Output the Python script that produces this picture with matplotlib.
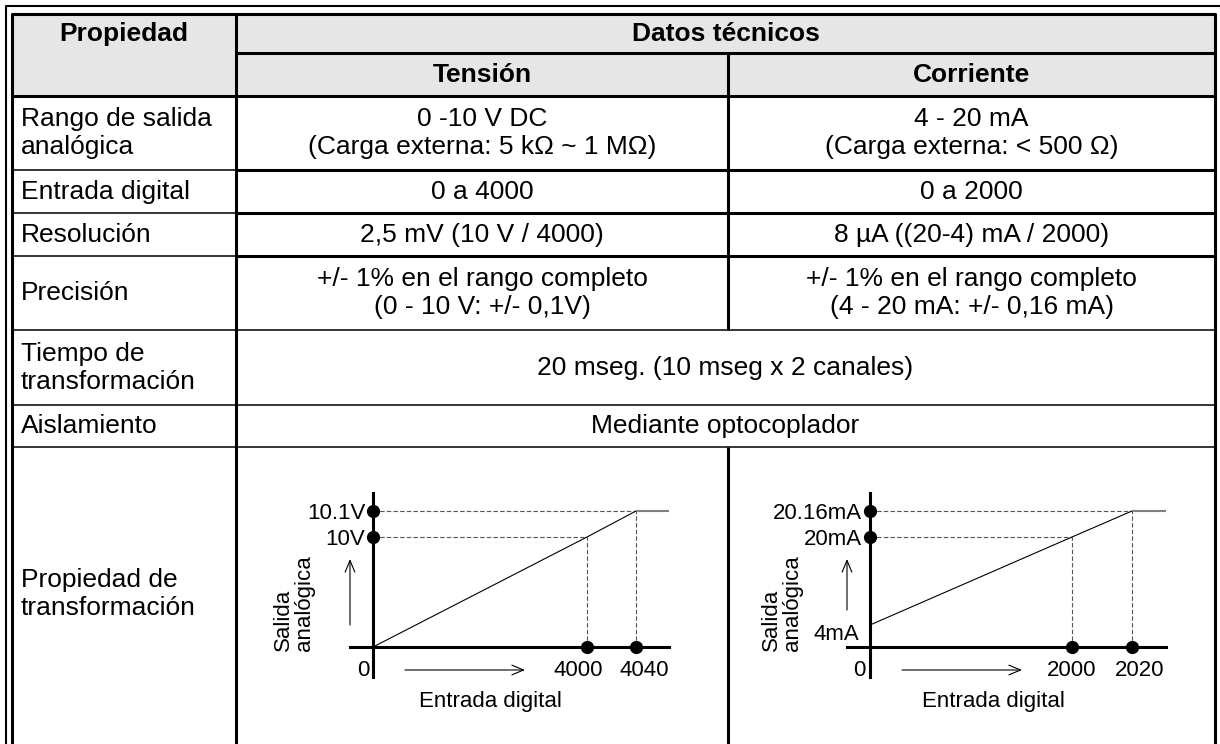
import numpy as np
import matplotlib
matplotlib.use("Agg")
import matplotlib.pyplot as plt
from matplotlib.patches import Rectangle

plt.rcParams['font.family'] = ['Liberation Sans', 'DejaVu Sans']

# Table content
col_headers = ["Propiedad", "Datos técnicos", "Tensión", "Corriente"]
row_names = [["Rango de salida", "analógica"], ["Entrada digital"], ["Resolución"],
             ["Precisión"], ["Tiempo de", "transformación"], ["Aislamiento"],
             ["Propiedad de", "transformación"]]
tension_vals = [["0 -10 V DC", "(Carga externa: 5 kΩ ~ 1 MΩ)"], ["0 a 4000"],
                ["2,5 mV (10 V / 4000)"],
                ["+/- 1% en el rango completo", "(0 - 10 V: +/- 0,1V)"]]
corriente_vals = [["4 - 20 mA", "(Carga externa: < 500 Ω)"], ["0 a 2000"],
                  ["8 µA ((20-4) mA / 2000)"],
                  ["+/- 1% en el rango completo", "(4 - 20 mA: +/- 0,16 mA)"]]
shared_vals = [["20 mseg. (10 mseg x 2 canales)"], ["Mediante optocoplador"]]

# Transformation curves
volt_in = [0, 4000, 4040]
volt_out = [0, 10, 10.1]
volt_ylabels = ["10V", "10.1V"]
curr_in = [0, 2000, 2020]
curr_out = [4, 20, 20.16]
curr_ylabels = ["20mA", "20.16mA"]
axis_title_x = "Entrada digital"
axis_title_y = "Salida\nanalógica"

# Layout (pixels)
W, H = 1220, 744
col_x = [12, 236, 728, 1215]
row_y = [14, 53, 96, 170, 213, 256, 330, 405, 447, 740]
thick, thin = 2.2, 1.1
fs_table = 19
fs_chart = 16
header_gray = '#e6e6e6'

fig = plt.figure(figsize=(W / 100, H / 100), dpi=100)
ax = fig.add_axes([0, 0, 1, 1])
ax.set_xlim(0, W)
ax.set_ylim(H, 0)
ax.axis('off')

# header background
ax.add_patch(Rectangle((col_x[0], row_y[0]), col_x[-1] - col_x[0], row_y[2] - row_y[0],
                       fc=header_gray, ec='none', zorder=0))

# frames
ax.plot([6, 6, W + 20], [H + 20, 6, 6], color='k', lw=1.5)
ax.plot([col_x[0], col_x[0], col_x[-1], col_x[-1]], [H + 20, row_y[0], row_y[0], H + 20],
        color='k', lw=thick)
ax.hlines(row_y[1], col_x[1], col_x[-1], color='k', lw=thick)
ax.hlines(row_y[2], col_x[0], col_x[-1], color='k', lw=thick)
ax.vlines(col_x[1], row_y[0], H + 20, color='k', lw=thick)
ax.vlines(col_x[2], row_y[1], row_y[6], color='k', lw=thick)
ax.vlines(col_x[2], row_y[8], H + 20, color='k', lw=thick)
for y in row_y[3:6]:
    ax.hlines(y, col_x[0], col_x[1], color='k', lw=thin)
    ax.hlines(y, col_x[1], col_x[-1], color='k', lw=thick)
for y in row_y[6:9]:
    ax.hlines(y, col_x[0], col_x[-1], color='k', lw=thin)

cap_off = 0.358 * fs_table * 100 / 72  # cap centre -> baseline


def cell_text(lines, x, y_top, y_bot, ha='center', bold=False):
    yc = (y_top + y_bot) / 2 - 2
    n = len(lines)
    for i, s in enumerate(lines):
        y = yc + (i - (n - 1) / 2) * 28
        ax.text(x, y + cap_off, s, ha=ha, va='baseline', fontsize=fs_table,
                fontweight='bold' if bold else 'normal')


c2 = (col_x[1] + col_x[2]) / 2
c3 = (col_x[2] + col_x[3]) / 2
c23 = (col_x[1] + col_x[3]) / 2
ax.text((col_x[0] + col_x[1]) / 2, 32 + cap_off, col_headers[0], ha='center', va='baseline',
        fontsize=fs_table, fontweight='bold')
ax.text(c23, 32 + cap_off, col_headers[1], ha='center', va='baseline',
        fontsize=fs_table, fontweight='bold')
ax.text(c2, 73 + cap_off, col_headers[2], ha='center', va='baseline',
        fontsize=fs_table, fontweight='bold')
ax.text(c3, 73 + cap_off, col_headers[3], ha='center', va='baseline',
        fontsize=fs_table, fontweight='bold')

for i, name in enumerate(row_names):
    cell_text(name, 21, row_y[i + 2], row_y[i + 3], ha='left')
for i, (tv, cv) in enumerate(zip(tension_vals, corriente_vals)):
    cell_text(tv, c2, row_y[i + 2], row_y[i + 3])
    cell_text(cv, c3, row_y[i + 2], row_y[i + 3])
for i, sv in enumerate(shared_vals):
    cell_text(sv, c23, row_y[i + 6], row_y[i + 7])


def piecewise(a, b):
    a = np.asarray(a, float)
    b = np.asarray(b, float)
    lo = (b[1] - b[0]) / (a[1] - a[0])
    hi = (b[-1] - b[-2]) / (a[-1] - a[-2])

    def f(v):
        v = np.asarray(v, float)
        out = np.interp(v, a, b)
        out = np.where(v < a[0], b[0] + (v - a[0]) * lo, out)
        out = np.where(v > a[-1], b[-1] + (v - a[-1]) * hi, out)
        return out
    return f


def draw_chart(origin, x_vals, y_vals, x_breaks, x_px, y_breaks, y_px, ylabels,
               low_label, arrow_up, salida_x, entrada_x, xlab_shift):
    ox, oy = origin
    left, right, below, above = 23, 296, 30, 154
    cax = fig.add_axes([(ox - left) / W, (H - oy - below) / H,
                        (left + right) / W, (below + above) / H])
    cax.patch.set_visible(False)
    fx, ix = piecewise(x_breaks, x_px), piecewise(x_px, x_breaks)
    fy, iy = piecewise(y_breaks, y_px), piecewise(y_px, y_breaks)
    cax.set_xscale('function', functions=(fx, ix))
    cax.set_yscale('function', functions=(fy, iy))
    cax.set_xlim(float(ix(-left)), float(ix(right)))
    cax.set_ylim(float(iy(-below)), float(iy(above)))
    for side in ['top', 'right']:
        cax.spines[side].set_visible(False)
    for side in ['left', 'bottom']:
        cax.spines[side].set_position(('data', 0))
        cax.spines[side].set_linewidth(thick)
    cax.minorticks_off()
    cax.set_xticks([])
    cax.set_yticks(y_vals[1:], labels=ylabels)
    cax.tick_params(axis='y', length=0, pad=5.5, labelsize=fs_chart)

    # guides
    for xv, yv in zip(x_vals[1:], y_vals[1:]):
        cax.plot([0, xv], [yv, yv], color='#555555', lw=0.8, ls=(0, (4, 2)))
        cax.plot([xv, xv], [0, yv], color='#555555', lw=0.8, ls=(0, (4, 2)))
    cax.plot(x_vals, y_vals, color='k', lw=0.8)
    cax.plot([x_vals[-1], cax.get_xlim()[1]], [y_vals[-1], y_vals[-1]],
             color='#808080', lw=1.5, solid_capstyle='butt')
    cax.plot(np.zeros(len(y_vals) - 1), y_vals[1:], 'o', color='k', ms=8.5,
             clip_on=False, zorder=5)
    cax.plot(x_vals[1:], np.zeros(len(x_vals) - 1), 'o', color='k', ms=8.5,
             clip_on=False, zorder=5)
    for xv, dx in zip(x_vals[1:], xlab_shift):
        cax.annotate(str(xv), xy=(xv, 0), xytext=(dx, -24), textcoords='offset pixels',
                     ha='center', va='center', fontsize=fs_chart)
    cax.annotate('0', xy=(0, 0), xytext=(-4, -24), textcoords='offset pixels',
                 ha='right', va='center', fontsize=fs_chart)
    if low_label:
        cax.annotate(low_label, xy=(0, y_vals[0]), xytext=(-11, -9),
                     textcoords='offset pixels', ha='right', va='center',
                     fontsize=fs_chart)

    # arrows and axis titles
    arrow = dict(arrowstyle='->,head_length=0.6,head_width=0.25', lw=0.8,
                 color='k', mutation_scale=14, shrinkA=0, shrinkB=0)
    ax.annotate('', xy=(ox + 152, oy + 23), xytext=(ox + 32, oy + 23), arrowprops=arrow)
    ax.annotate('', xy=(ox - 23, arrow_up[1]), xytext=(ox - 23, arrow_up[0]), arrowprops=arrow)
    ax.text(salida_x, oy + 4, axis_title_y, rotation=90, rotation_mode='anchor',
            ha='left', va='center', multialignment='left', linespacing=1.05,
            fontsize=fs_chart)
    ax.text(entrada_x, 702, axis_title_x, ha='center', va='center', fontsize=fs_chart)


draw_chart((373, 647), volt_in, volt_out, volt_in, [0, 214, 263], [0, 10, 10.1],
           [0, 110, 136], volt_ylabels, None, (625, 559), 294, 490, (-9, 8))
draw_chart((870, 647), curr_in, curr_out, curr_in, [0, 202, 262], [0, 20, 20.16],
           [0, 110, 136], curr_ylabels, "4mA", (610, 559), 782, 993, (0, 8))

fig.savefig("out.png", dpi=100)
